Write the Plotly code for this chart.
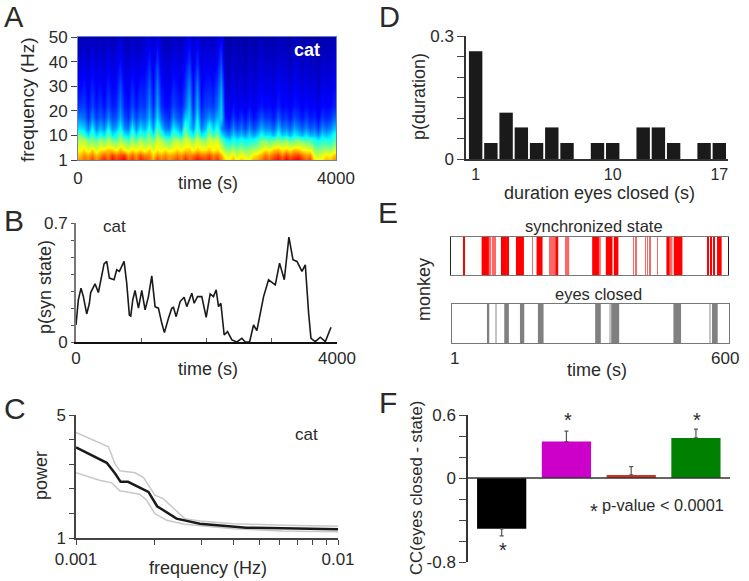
import plotly.graph_objects as go

W, H = 749, 581
FONT = "Liberation Sans"
INK = "#2a2a2a"

# A: spectrogram, one row per frequency, 64 time columns (jet level 0-100)
spec_freq = [0, 2, 4, 6, 8, 10, 13, 17, 22, 30, 40, 50]
spec_f0 = [76,80,78,84,76,82,88,80,90,84,88,92,80,86,78,88,84,80,74,84,78,82,76,80,84,78,88,80,84,90,86,84,
           88,80,86,78,68,66,72,64,70,66,64,72,74,78,84,80,86,90,84,92,86,90,92,86,80,84,68,64,66,72,70,76]
spec_f2 = [70,76,72,78,70,76,80,76,84,78,82,84,74,80,74,82,76,76,68,76,72,76,72,74,78,74,80,76,78,82,78,78,
           82,76,80,72,62,60,66,58,64,60,58,66,68,72,78,74,80,84,76,84,78,82,84,78,74,76,60,58,62,66,64,70]
spec_f4 = [64,68,60,70,60,66,68,70,70,64,72,66,62,68,64,68,62,70,60,66,62,68,62,64,68,64,68,70,64,70,66,66,
           70,64,68,62,54,52,56,52,56,52,54,56,58,62,68,64,70,72,66,70,66,72,70,66,64,64,54,52,54,56,54,60]
spec_f6 = [60,62,56,58,54,60,56,62,58,56,62,58,54,60,56,62,56,60,56,64,60,56,54,60,62,58,64,62,58,64,60,58,
           64,62,64,56,46,44,48,44,48,44,46,48,50,56,58,54,58,60,58,60,56,58,60,58,56,54,48,44,48,48,46,52]
spec_f8 = [56,58,50,52,48,54,50,56,50,48,56,50,46,54,48,56,50,54,50,60,56,50,48,54,58,52,60,58,52,60,54,52,
           60,58,60,50,40,36,42,38,42,38,40,40,44,50,52,46,50,52,48,54,46,50,52,48,46,46,42,38,42,42,40,46]
spec_f10 = [50,44,35,47,35,42,37,49,37,41,49,38,34,48,37,46,41,51,38,54,45,36,34,47,43,37,55,45,38,53,37,42,
            54,44,52,37,30,27,35,29,33,28,35,29,33,41,36,37,31,43,33,37,31,39,35,31,37,30,33,27,36,32,35,42]
spec_f13 = [36,34,25,38,26,32,26,39,27,30,40,27,24,39,26,36,30,42,27,46,34,25,24,38,32,26,48,36,27,45,26,31,
            45,33,42,27,21,18,27,20,25,19,27,20,24,31,26,27,22,33,24,27,22,30,26,22,27,21,24,18,27,23,26,32]
spec_f17 = [26,25,17,27,19,23,19,27,20,22,30,21,17,27,20,25,23,32,21,36,24,19,17,27,22,20,34,36,21,37,20,24,
            29,25,31,35,15,13,19,14,18,14,19,14,17,22,18,19,15,23,17,19,15,21,18,15,19,15,17,13,19,16,18,23]
spec_f22 = [18,19,14,20,15,18,14,20,15,17,25,16,14,20,15,19,18,27,16,30,17,14,14,20,17,15,23,32,16,31,15,19,
            20,18,24,33,12,10,14,11,13,10,14,11,13,15,13,14,12,16,13,14,12,15,14,12,14,12,13,10,14,13,13,16]
spec_f30 = [13,15,11,16,12,14,11,16,12,14,20,13,11,16,12,15,15,22,13,25,14,12,11,16,14,12,18,26,13,25,12,15,
            16,14,19,28,9,7,11,8,10,7,11,8,10,12,10,11,9,13,11,11,9,12,11,9,11,9,10,7,11,10,10,13]
spec_f40 = [9,10,8,11,8,10,8,11,9,10,14,9,8,11,9,10,11,16,10,18,10,9,8,11,10,9,13,18,10,17,9,11,
            11,10,13,20,6,5,8,6,7,5,8,6,7,9,7,8,6,9,8,8,6,9,8,6,8,6,7,5,8,7,7,9]
spec_f50 = [5,6,5,7,5,6,5,7,5,6,9,5,5,7,5,6,7,10,6,11,6,5,5,7,6,6,8,11,7,11,6,7,
            7,6,8,12,4,3,5,4,5,3,5,4,5,6,4,5,4,6,5,5,4,6,5,4,5,4,5,3,5,4,5,6]
spec_z = [spec_f0, spec_f2, spec_f4, spec_f6, spec_f8, spec_f10, spec_f13, spec_f17, spec_f22, spec_f30, spec_f40, spec_f50]

# B: probability of synchronized state
syn_t = [0,36,77,113,164,205,225,292,343,384,430,471,512,583,624,665,737,777,818,839,870,905,957,1008,1059,1110,1161,
         1212,1263,1315,1355,1417,1468,1494,1535,1596,1657,1698,1775,1811,1862,1928,1995,2056,2107,2148,2184,2220,
         2271,2322,2389,2465,2542,2593,2660,2721,2772,2875,2951,3054,3120,3192,3263,3325,3386,3463,3514,3565,3601,
         3667,3744,3821,3908]
syn_p = [0.10,0.248,0.317,0.267,0.165,0.228,0.291,0.342,0.291,0.366,0.46,0.474,0.376,0.366,0.425,0.415,0.474,0.346,
         0.159,0.153,0.248,0.303,0.199,0.303,0.189,0.267,0.389,0.208,0.199,0.11,0.055,0.14,0.199,0.204,0.149,0.238,
         0.263,0.208,0.287,0.228,0.267,0.267,0.145,0.283,0.267,0.307,0.208,0.228,0.041,0.061,0.012,0,0.022,0,0,
         0.10,0.067,0.267,0.366,0.336,0.464,0.366,0.617,0.484,0.474,0.415,0.454,0.169,0.022,0.002,0.028,0.002,0.087]

# C: power spectrum, mean and bounds
mean_f = [0.001,0.00131,0.00141,0.00148,0.00158,0.00189,0.00204,0.00242,0.00297,0.00398,0.00447,0.00617,0.01]
mean_p = [3.945,3.446,3.098,2.826,2.826,2.5,2.033,1.63,1.467,1.38,1.337,1.315,1.283]
upper_f = [0.001,0.00133,0.00141,0.00147,0.00168,0.00181,0.002,0.00215,0.0026,0.00297,0.00398,0.00617,0.01]
upper_p = [4.435,3.967,3.402,3.185,3.12,2.967,2.391,2.283,1.63,1.554,1.467,1.413,1.38]
lower_f = [0.001,0.00123,0.00137,0.00147,0.00175,0.00186,0.002,0.00222,0.0026,0.00398,0.00617,0.01]
lower_p = [3.12,2.88,2.793,2.533,2.424,2.228,1.793,1.576,1.446,1.304,1.228,1.207]

# D: duration histogram
dur_s = list(range(1, 18))
dur_p = [0.263,0.039,0.113,0.077,0.039,0.077,0.039,0,0.039,0.039,0,0.077,0.077,0.039,0,0.039,0.039]

# E: rasters, onset and length in seconds
sync_on = [29,67.2,109,123.4,141.4,186,226.4,306.3,335.8,353,466.8,482.7,554.7,561.9,569,576.3]
sync_len = [2,15.8,13,2.9,17.3,13,6.5,14.4,14.4,10,7.2,18.7,2.9,2.9,2.9,10]
sync_pale_on = [85,90,94.6,176.7,214,218.4,222.8,249.4,253.7,320.7,394.8,399,420.8,425,430.8,446.7,474]
sync_pale_len = [2.9,2.2,2.9,1.5,2,2,2,1.5,2.9,4.3,1.5,3,1.5,1.5,1.5,1.5,6]
eyes_on = [76.6,114,147.9,186.8,310.6,345.2,479.8,563.3]
eyes_len = [5,10,9.4,12.2,12.2,17.3,16.6,12.2]
eyes_pale_on = [94.6,341.6,557.6]
eyes_pale_len = [2,2,2]

# F: correlation bars
cc_x = [1, 2, 3, 4]
cc_val = [-0.484, 0.347, 0.029, 0.382]
cc_err_up = [0, 0.099, 0.079, 0.083]
cc_err_down = [0.067, 0, 0, 0]
cc_colors = ["#000000", "#cc00c8", "#cc3322", "#008000"]

jet = [[0, "rgb(0,0,131)"], [0.125, "rgb(0,0,255)"], [0.375, "rgb(0,255,255)"],
       [0.625, "rgb(255,255,0)"], [0.875, "rgb(255,0,0)"], [1, "rgb(128,0,0)"]]


def dom_x(x0, x1):
    return [x0 / W, x1 / W]


def dom_y(y0, y1):
    return [1 - y1 / H, 1 - y0 / H]


def label(text, x, y, size=18, angle=0, color=INK, bold=False):
    # text placed by its centre, in page pixels
    return dict(text="<b>%s</b>" % text if bold else text, x=x / W, y=1 - y / H, xref="paper", yref="paper",
                showarrow=False, xanchor="center", yanchor="middle", textangle=angle,
                font=dict(family=FONT, size=size, color=color))


def star(x, y, size=20):
    return dict(text="*", x=x, y=y, xref="x7", yref="y7", showarrow=False, xanchor="center", yanchor="middle",
                font=dict(family=FONT, size=size, color=INK))


fig = go.Figure()

fig.add_trace(go.Heatmap(z=spec_z, x0=31, dx=62.5, y=spec_freq, colorscale=jet, zmin=0, zmax=103,
                         zsmooth="best", showscale=False, xaxis="x", yaxis="y"))
fig.add_trace(go.Scatter(x=syn_t, y=syn_p, mode="lines", line=dict(color="#1a1a1a", width=1.6),
                         xaxis="x2", yaxis="y2"))
fig.add_trace(go.Scatter(x=upper_f, y=upper_p, mode="lines", line=dict(color="#c8c8c8", width=1.5),
                         xaxis="x3", yaxis="y3"))
fig.add_trace(go.Scatter(x=lower_f, y=lower_p, mode="lines", line=dict(color="#c8c8c8", width=1.5),
                         xaxis="x3", yaxis="y3"))
fig.add_trace(go.Scatter(x=mean_f, y=mean_p, mode="lines", line=dict(color="#1a1a1a", width=2.5),
                         xaxis="x3", yaxis="y3"))
fig.add_trace(go.Bar(x=dur_s, y=dur_p, width=0.88, marker=dict(color="#1a1a1a", line=dict(width=0)),
                     xaxis="x4", yaxis="y4"))
fig.add_trace(go.Bar(x=sync_pale_on, width=sync_pale_len, offset=0, y=[1] * len(sync_pale_on),
                     marker=dict(color="#f66", line=dict(width=0)), xaxis="x5", yaxis="y5"))
fig.add_trace(go.Bar(x=sync_on, width=sync_len, offset=0, y=[1] * len(sync_on),
                     marker=dict(color="#ff0000", line=dict(width=0)), xaxis="x5", yaxis="y5"))
fig.add_trace(go.Bar(x=eyes_pale_on, width=eyes_pale_len, offset=0, y=[1] * len(eyes_pale_on),
                     marker=dict(color="#c4c4c4", line=dict(width=0)), xaxis="x6", yaxis="y6"))
fig.add_trace(go.Bar(x=eyes_on, width=eyes_len, offset=0, y=[1] * len(eyes_on),
                     marker=dict(color="#808080", line=dict(width=0)), xaxis="x6", yaxis="y6"))
fig.add_trace(go.Bar(x=cc_x, y=cc_val, width=0.76, marker=dict(color=cc_colors, line=dict(width=0)),
                     error_y=dict(type="data", symmetric=False, array=cc_err_up, arrayminus=cc_err_down,
                                  color="#555555", thickness=1.2, width=2),
                     xaxis="x7", yaxis="y7"))

tick_font = dict(family=FONT, size=17, color=INK)
common = dict(showgrid=False, zeroline=False, tickfont=tick_font, fixedrange=True)

fig.update_layout(
    width=W, height=H, margin=dict(l=0, r=0, t=0, b=0, autoexpand=False), showlegend=False, barmode="overlay",
    paper_bgcolor="white", plot_bgcolor="white",
    # A
    xaxis=dict(common, domain=dom_x(78, 336), range=[0, 4000], tickvals=[0, 4000], ticks="outside", ticklen=3, tickcolor="rgba(0,0,0,0)",
               showline=True, linecolor="#7080b0", linewidth=1, mirror=True, anchor="y"),
    yaxis=dict(common, domain=dom_y(37, 160), range=[0, 50], tickvals=[0, 10, 20, 30, 40, 50],
               ticktext=["1", "10", "20", "30", "40", "50"], ticks="outside", ticklen=6, tickcolor="#444",
               showline=True, linecolor="#7080b0", linewidth=1, mirror=True, anchor="x"),
    # B
    xaxis2=dict(common, domain=dom_x(76, 337), range=[0, 4000], tickvals=[0, 1000, 2000, 3000, 4000],
                ticktext=["0", "", "", "", "4000"], ticks="inside", ticklen=4, tickcolor="#555",
                showline=True, linecolor="#111", linewidth=2, anchor="y2"),
    yaxis2=dict(common, domain=dom_y(223, 342), range=[0, 0.7], tickvals=[0, 0.1, 0.2, 0.3, 0.4, 0.5, 0.6, 0.7],
                ticktext=["0", "", "", "", "", "", "", "0.7"], ticks="outside", ticklen=3, tickcolor="#555",
                showline=True, linecolor="#777", linewidth=2, anchor="x2"),
    # C
    xaxis3=dict(common, type="log", domain=dom_x(76, 338), range=[-3, -2],
                tickvals=[0.001, 0.002, 0.003, 0.004, 0.005, 0.006, 0.007, 0.008, 0.009, 0.01],
                ticktext=["0.001", "", "", "", "", "", "", "", "", "0.01"], ticks="outside", ticklen=5, tickcolor="#444",
                showline=True, linecolor="#444", linewidth=1.5, anchor="y3"),
    yaxis3=dict(common, domain=dom_y(415, 538), range=[1, 5], tickvals=[1, 1.8, 2.6, 3.4, 4.2, 5],
                ticktext=["1", "", "", "", "", "5"], ticks="outside", ticklen=5, tickcolor="#444",
                showline=True, linecolor="#444", linewidth=1.5, anchor="x3"),
    # D
    xaxis4=dict(common, domain=dom_x(466, 728), range=[0.366, 17.57], tickvals=[1, 10, 17], ticks="",
                tickfont=dict(family=FONT, size=16, color=INK),
                showline=True, linecolor="#333", linewidth=1.5, anchor="y4"),
    yaxis4=dict(common, domain=dom_y(36, 159), range=[0, 0.3], tickvals=[0, 0.05, 0.1, 0.15, 0.2, 0.25, 0.3],
                ticktext=["0", "", "", "", "", "", "0.3"], ticks="outside", ticklen=7, tickcolor="#444",
                showline=True, linecolor="#333", linewidth=1.5, anchor="x4"),
    # E
    xaxis5=dict(common, domain=dom_x(451, 728), range=[1, 600], showticklabels=False,
                showline=True, linecolor="#777", linewidth=1, mirror=True, anchor="y5"),
    yaxis5=dict(common, domain=dom_y(237, 275), range=[0, 1], showticklabels=False,
                showline=True, linecolor="#222", linewidth=1, mirror=True, anchor="x5"),
    xaxis6=dict(common, domain=dom_x(452, 729), range=[1, 600], tickvals=[], showticklabels=False,
                showline=True, linecolor="#777", linewidth=1, mirror=True, anchor="y6"),
    yaxis6=dict(common, domain=dom_y(304, 343), range=[0, 1], showticklabels=False,
                showline=True, linecolor="#777", linewidth=1, mirror=True, anchor="x6"),
    # F
    xaxis7=dict(common, domain=dom_x(468, 730), range=[0.48, 4.526], showticklabels=False, anchor="y7",
                showline=False),
    yaxis7=dict(common, domain=dom_y(415, 562), range=[-0.8, 0.6],
                tickvals=[-0.8, -0.6, -0.4, -0.2, 0, 0.2, 0.4, 0.6],
                ticktext=["-0.8", "", "", "", "0", "", "", "0.6"], ticks="outside", ticklen=7, tickcolor="#444",
                showline=True, linecolor="#333", linewidth=1.5, anchor="x7"),
    shapes=[dict(type="line", xref="x7 domain", yref="y7", x0=0, x1=1, y0=0, y1=0,
                 line=dict(color="#333", width=1.5))],
    annotations=[
        label("A", 14, 17, 29), label("B", 14, 220, 30), label("C", 15, 408, 30),
        label("D", 389, 17, 29), label("E", 388, 212, 30), label("F", 388, 402, 30),
        label("frequency (Hz)", 27, 100, 19, -90), label("time (s)", 208, 183),
        label("cat", 307, 50, 18, color="white", bold=True),
        label("p(syn state)", 45, 287, 18, -90), label("time (s)", 208, 369), label("cat", 114, 226, 17),
        label("power", 41, 476, 18, -90), label("frequency (Hz)", 208, 568), label("cat", 306, 434, 17),
        label("p(duration)", 419, 97, 18, -90), label("duration eyes closed (s)", 599, 193),
        label("synchronized state", 594, 226, 16.5), label("eyes closed", 598, 294, 16.5),
        label("monkey", 424, 290, 18, -90), label("1", 455, 358, 17), label("600", 725, 358, 17),
        label("time (s)", 597, 370),
        label("CC(eyes closed - state)", 416, 488, 16.7, -90), label("p-value < 0.0001", 663, 505, 16.3),
        star(1.02, -0.69), star(2.02, 0.557), star(4.01, 0.557), star(2.42, -0.31),
    ],
)

# the page body has a default margin that would shift the figure
fig.write_html("out.html", post_script="document.body.style.margin='0';", config=dict(displayModeBar=False))
